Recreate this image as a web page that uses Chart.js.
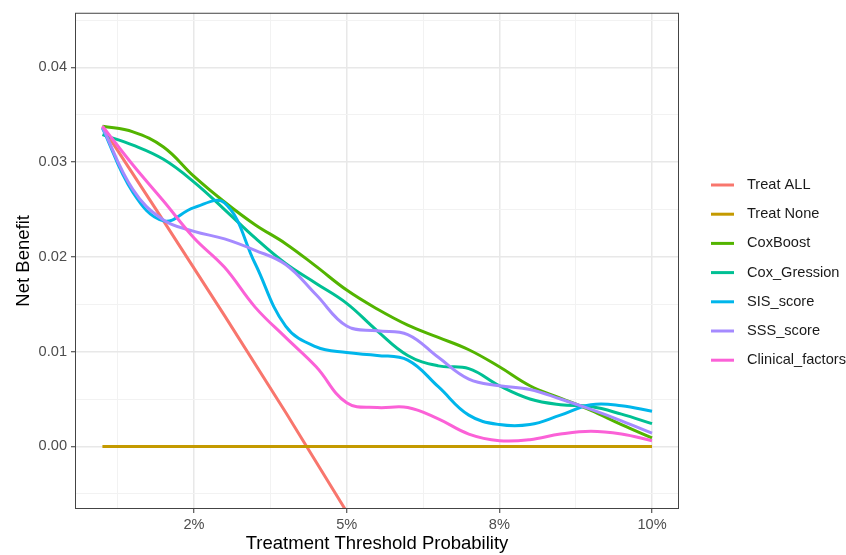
<!doctype html>
<html lang="en">
<head>
<meta charset="utf-8">
<script src="https://cdn.jsdelivr.net/npm/chart.js"></script>
<style>
  html, body { margin: 0; padding: 0; background: #fff; }
</style>
</head>
<body>
<canvas id="dcaChart" width="846" height="555"></canvas>

<script>
    // threshold probability (%) for the model curves
    var thresholds = [1, 1.5, 2, 2.5, 3, 3.5, 4, 4.5, 5, 5.5, 6, 6.5, 7, 7.5, 8, 8.5, 9, 9.5, 10];

    var treatAllX = [1, 2, 3, 4, 5];
    var treatAll = [0.0337, 0.0238, 0.0138, 0.0036, -0.0069];
    var treatNoneX = [1, 10];
    var treatNone = [0, 0];

    var coxBoost     = [0.0338, 0.0332, 0.0316, 0.0285, 0.0258, 0.0234, 0.0214, 0.0190, 0.0165, 0.0145, 0.0128, 0.0115, 0.0102, 0.0084, 0.0064, 0.0051, 0.0038, 0.0023, 0.0009];
    var coxGression  = [0.0329, 0.0318, 0.0303, 0.0279, 0.0250, 0.0220, 0.0193, 0.0172, 0.0151, 0.0122, 0.0096, 0.0085, 0.0082, 0.0064, 0.0050, 0.0044, 0.0042, 0.0034, 0.0024];
    var sisScore     = [0.0336, 0.0268, 0.0238, 0.0252, 0.0257, 0.0193, 0.0127, 0.0105, 0.0099, 0.0096, 0.0091, 0.0063, 0.0033, 0.0023, 0.0023, 0.0033, 0.0044, 0.0043, 0.0037];
    var sssScore     = [0.0337, 0.0271, 0.0239, 0.0227, 0.0219, 0.0207, 0.0192, 0.0160, 0.0127, 0.0122, 0.0118, 0.0094, 0.0071, 0.0064, 0.0060, 0.0050, 0.0039, 0.0027, 0.0014];
    var clinical     = [0.0338, 0.0297, 0.0259, 0.0220, 0.0189, 0.0147, 0.0115, 0.0084, 0.0046, 0.0041, 0.0041, 0.0029, 0.0013, 0.0006, 0.0007, 0.0013, 0.0016, 0.0013, 0.0006];

    var xTickValues = [2.5, 5, 7.5, 10];
    var xTickLabels = ['2%', '5%', '8%', '10%'];
    var xMinorValues = [1.25, 3.75, 6.25, 8.75];
    var yTickValues = [0, 0.01, 0.02, 0.03, 0.04];
    var yTickLabels = ['0.00', '0.01', '0.02', '0.03', '0.04'];
    var yMinorValues = [-0.005, 0.005, 0.015, 0.025, 0.035, 0.045];

    var FONT = '"Liberation Sans", Arial, Helvetica, sans-serif';

    function pairs(xs, ys) {
        return xs.map(function(x, i) { return { x: x, y: ys[i] }; });
    }
    function findIdx(arr, v) {
        for (var i = 0; i < arr.length; i++) {
            if (Math.abs(arr[i] - v) < 1e-9) return i;
        }
        return -1;
    }

    var series = [
        { label: 'Treat ALL',        color: '#F8766D', data: pairs(treatAllX, treatAll), tension: 0 },
        { label: 'Treat None',       color: '#C49A00', data: pairs(treatNoneX, treatNone), tension: 0 },
        { label: 'CoxBoost',         color: '#53B400', data: pairs(thresholds, coxBoost) },
        { label: 'Cox_Gression',     color: '#00C094', data: pairs(thresholds, coxGression) },
        { label: 'SIS_score',        color: '#00B6EB', data: pairs(thresholds, sisScore) },
        { label: 'SSS_score',        color: '#A58AFF', data: pairs(thresholds, sssScore) },
        { label: 'Clinical_factors', color: '#FB61D7', data: pairs(thresholds, clinical) }
    ];

    var datasets = series.map(function(s, i) {
        return {
            label: s.label,
            data: s.data,
            borderColor: s.color,
            backgroundColor: s.color,
            borderWidth: 3,
            pointRadius: 0,
            fill: false,
            tension: s.tension === 0 ? 0 : 0.4,
            order: series.length - i
        };
    });

    // ggplot-like legend on the right
    var sideLegend = {
        id: 'sideLegend',
        afterDraw: function(chart) {
            var ctx = chart.ctx;
            ctx.save();
            chart.data.datasets.forEach(function(ds, i) {
                var y = 185 + i * 29.2;
                ctx.strokeStyle = ds.borderColor;
                ctx.lineWidth = 3;
                ctx.beginPath();
                ctx.moveTo(711, y);
                ctx.lineTo(734, y);
                ctx.stroke();
                ctx.fillStyle = '#1a1a1a';
                ctx.font = '14.6px ' + FONT;
                ctx.textBaseline = 'middle';
                ctx.textAlign = 'left';
                ctx.fillText(ds.label, 747, y);
            });
            ctx.restore();
        }
    };

    // panel border
    var panelBorder = {
        id: 'panelBorder',
        afterDatasetsDraw: function(chart) {
            var a = chart.chartArea, ctx = chart.ctx;
            ctx.save();
            ctx.strokeStyle = '#444444';
            ctx.lineWidth = 1;
            ctx.strokeRect(a.left + 0.5, a.top + 0.5, a.right - a.left - 1, a.bottom - a.top - 1);
            ctx.restore();
        }
    };

    var ctx = document.getElementById('dcaChart').getContext('2d');
    window.dcaChart = new Chart(ctx, {
        type: 'line',
        data: { datasets: datasets },
        options: {
            responsive: false,
            animation: false,
            layout: { padding: { top: 10, right: 167, left: 0, bottom: 0 } },
            plugins: {
                legend: { display: false },
                tooltip: { enabled: false }
            },
            scales: {
                x: {
                    type: 'linear',
                    min: 0.551,
                    max: 10.442,
                    afterBuildTicks: function(scale) {
                        scale.ticks = xMinorValues.concat(xTickValues).sort(function(a, b) { return a - b; })
                            .map(function(v) { return { value: v }; });
                    },
                    afterFit: function(scale) { scale.height = 46; },
                    border: { display: false },
                    grid: {
                        color: function(c) { return findIdx(xTickValues, c.tick.value) >= 0 ? '#E8E8E8' : '#F2F2F2'; },
                        lineWidth: function(c) { return findIdx(xTickValues, c.tick.value) >= 0 ? 1.5 : 1; },
                        tickColor: function(c) { return findIdx(xTickValues, c.tick.value) >= 0 ? '#333333' : 'rgba(0,0,0,0)'; },
                        tickLength: 4,
                        tickWidth: 1
                    },
                    ticks: {
                        autoSkip: false,
                        maxRotation: 0,
                        padding: 3,
                        color: '#4D4D4D',
                        font: { family: FONT, size: 14.6 },
                        callback: function(v) {
                            var i = findIdx(xTickValues, v);
                            return i >= 0 ? xTickLabels[i] : '';
                        }
                    },
                    title: {
                        display: true,
                        text: 'Treatment Threshold Probability',
                        color: '#000000',
                        font: { family: FONT, size: 18.5 },
                        padding: { top: 0, bottom: 0 }
                    }
                },
                y: {
                    type: 'linear',
                    min: -0.00661,
                    max: 0.04577,
                    afterBuildTicks: function(scale) {
                        scale.ticks = yMinorValues.concat(yTickValues).sort(function(a, b) { return a - b; })
                            .map(function(v) { return { value: v }; });
                    },
                    afterFit: function(scale) { scale.width = 75; },
                    border: { display: false },
                    grid: {
                        color: function(c) { return findIdx(yTickValues, c.tick.value) >= 0 ? '#E8E8E8' : '#F2F2F2'; },
                        lineWidth: function(c) { return findIdx(yTickValues, c.tick.value) >= 0 ? 1.5 : 1; },
                        tickColor: function(c) { return findIdx(yTickValues, c.tick.value) >= 0 ? '#333333' : 'rgba(0,0,0,0)'; },
                        tickLength: 4,
                        tickWidth: 1
                    },
                    ticks: {
                        autoSkip: false,
                        padding: 4,
                        color: '#4D4D4D',
                        font: { family: FONT, size: 14.6 },
                        callback: function(v) {
                            var i = findIdx(yTickValues, v);
                            return i >= 0 ? yTickLabels[i] : '';
                        }
                    },
                    title: {
                        display: true,
                        text: 'Net Benefit',
                        color: '#000000',
                        font: { family: FONT, size: 18.5 },
                        padding: { top: 13, bottom: 0 }
                    }
                }
            }
        },
        plugins: [sideLegend, panelBorder]
    });
</script>
</body>
</html>
